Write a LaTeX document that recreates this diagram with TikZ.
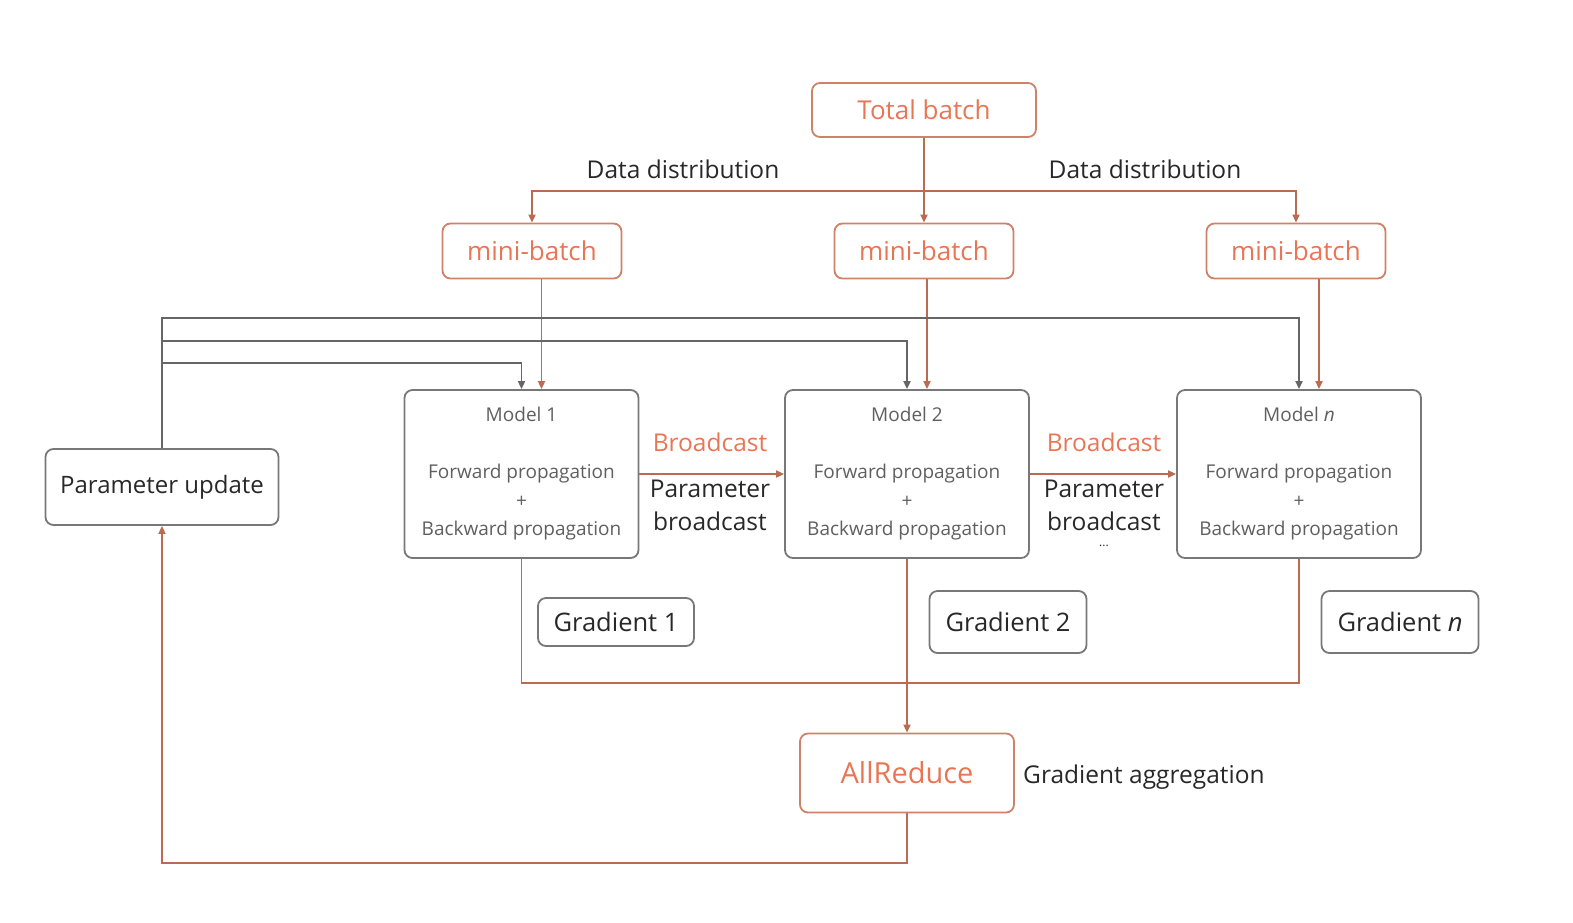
\documentclass[tikz,border=0pt]{standalone}
\usepackage{fontspec}
\setmainfont{Open Sans}
\usetikzlibrary{arrows.meta}

\definecolor{hwgrey}{RGB}{120,120,120}
\definecolor{hwdark}{RGB}{40,40,40}
\definecolor{hwmodel}{RGB}{95,95,95}
\definecolor{hworange}{RGB}{232,118,84}
\definecolor{hwborder}{RGB}{205,130,105}
\definecolor{hwline}{RGB}{185,108,82}

\begin{document}
\begin{tikzpicture}[x=1pt,y=-1pt,
  box/.style={draw=hwgrey,line width=1.8pt,rounded corners=8pt,inner sep=0pt,
    text=hwdark,font=\fontsize{24}{28}\selectfont},
  obox/.style={box,draw=hwborder,text=hworange,font=\fontsize{26}{30}\selectfont},
  modelbox/.style={box,minimum height=168pt,align=center,text=hwmodel,
    font=\fontsize{19}{28.7}\selectfont},
  darklabel/.style={text=hwdark,inner sep=0pt,font=\fontsize{24.5}{33}\selectfont,align=center},
  orangelabel/.style={darklabel,text=hworange},
  oline/.style={draw=hwline,line width=1.8pt},
  gline/.style={draw=hwgrey!85!black,line width=1.8pt},
  tip/.style={-{Triangle[length=8pt,width=7pt]}},
  tips/.style={{Triangle[length=8pt,width=7pt]}-{Triangle[length=8pt,width=7pt]}}]

  \useasboundingbox (0,0) rectangle (1573,922);

  %% Batches
  \node[obox,minimum width=224pt,minimum height=54pt] (total) at (924,110) {Total batch};
  \node[obox,minimum width=179pt,minimum height=55pt] (mb1) at (532,251) {mini-batch};
  \node[obox,minimum width=179pt,minimum height=55pt] (mb2) at (924,251) {mini-batch};
  \node[obox,minimum width=179pt,minimum height=55pt] (mb3) at (1296,251) {mini-batch};

  \node[darklabel] (dd1) at (683,169) {Data distribution};
  \node[darklabel] (dd2) at (1145,169) {Data distribution};

  %% Models
  \node[modelbox,minimum width=234pt] (m1) at (521.5,474)
    {Model 1\\[28pt]Forward propagation\\+\\Backward propagation};
  \node[modelbox,minimum width=244pt] (m2) at (907,474)
    {Model 2\\[28pt]Forward propagation\\+\\Backward propagation};
  \node[modelbox,minimum width=244pt] (mn) at (1299,474)
    {Model \textit{n}\\[28pt]Forward propagation\\+\\Backward propagation};

  \node[box,minimum width=233pt,minimum height=76pt] (pu) at (162,487) {Parameter update};

  %% Gradients
  \node[box,minimum width=156pt,minimum height=48pt,font=\fontsize{25.5}{30}\selectfont] (g1) at (616,622) {Gradient 1};
  \node[box,minimum width=157pt,minimum height=62pt,font=\fontsize{25.5}{30}\selectfont] (g2) at (1008,622) {Gradient 2};
  \node[box,minimum width=157pt,minimum height=62pt,font=\fontsize{25.5}{30}\selectfont] (gn) at (1400,622) {Gradient \textit{n}};

  \node[obox,minimum width=214pt,minimum height=79pt,font=\fontsize{29}{32}\selectfont] (ar) at (907,773) {AllReduce};
  \node[darklabel,anchor=west] (agg) at (1023,777) {Gradient aggregation};

  %% Broadcast labels
  \node[orangelabel] (bc1) at (710,442) {Broadcast};
  \node[darklabel] (pb1) at (710,505) {Parameter\\broadcast};
  \node[orangelabel] (bc2) at (1104,442) {Broadcast};
  \node[darklabel] (pb2) at (1104,505) {Parameter\\broadcast};
  \node[text=hwdark,inner sep=0pt,font=\fontsize{12}{12}\selectfont] (dots) at (1104,546) {...};

  %% Data distribution
  \coordinate (split) at (924,191);
  \draw[oline,tip] (total.south) -- (mb2.north);
  \draw[oline,tips] (mb1.north) |- (split) -| (mb3.north);

  \coordinate (in1) at ([xshift=20pt]m1.north);
  \coordinate (in2) at ([xshift=20pt]m2.north);
  \coordinate (in3) at ([xshift=20pt]mn.north);
  \draw[oline,tip] (in1 |- mb1.south) -- (in1);
  \draw[oline,tip] (in2 |- mb2.south) -- (in2);
  \draw[oline,tip] (in3 |- mb3.south) -- (in3);

  %% Parameter update back to models
  \coordinate (fb3) at (162,318);
  \coordinate (fb2) at (162,341);
  \coordinate (fb1) at (162,363);
  \draw[gline,tip] (pu.north) -- (fb3) -| (mn.north);
  \draw[gline,tip] (fb2) -| (m2.north);
  \draw[gline,tip] (fb1) -| (m1.north);

  %% Broadcast arrows
  \draw[oline,tip] (m1.east) -- (m2.west);
  \draw[oline,tip] (m2.east) -- (mn.west);

  %% Gradient aggregation
  \coordinate (gbus) at (907,683);
  \draw[oline] (m1.south) |- (gbus) -| (mn.south);
  \draw[oline,tip] (m2.south) -- (ar.north);

  \coordinate (ret) at (162,863);
  \draw[oline,tip] (ar.south) |- (ret) -- (pu.south);

\end{tikzpicture}
\end{document}
